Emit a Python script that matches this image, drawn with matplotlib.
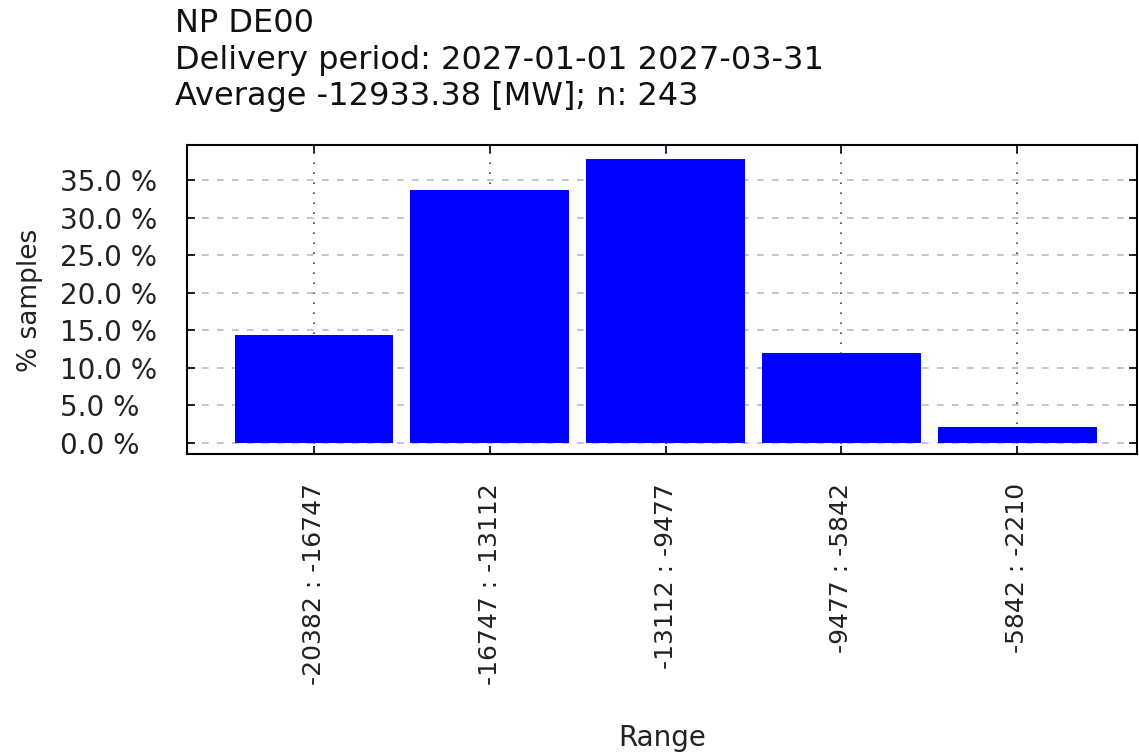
import numpy as np
import matplotlib.pyplot as plt

# histogram of sample counts (n = 243)
ranges = ["-20382 : -16747", "-16747 : -13112", "-13112 : -9477",
          "-9477 : -5842", "-5842 : -2210"]
counts = [35, 82, 92, 29, 5]
n_samples = 243
pct = [100 * c / n_samples for c in counts]

title_lines = ["NP DE00",
               "Delivery period: 2027-01-01 2027-03-31",
               "Average -12933.38 [MW]; n: 243"]

fig = plt.figure(figsize=(11.39, 7.56), dpi=100)
ax = fig.add_axes([187 / 1139, 1 - 454 / 756, (1137 - 187) / 1139, (454 - 145) / 756])

x = np.arange(len(ranges))
ax.bar(x, pct, width=0.9, color="#0000ff", zorder=3)

ax.set_xlim(-0.72, 4.68)
ax.set_ylim(-1.5, 39.7)
ax.set_yticks(np.arange(0, 36, 5))
ax.set_yticklabels([f"{v:.1f} %" for v in np.arange(0, 36, 5)], ha="left")
ax.set_xticks(x)
ax.set_xticklabels(ranges, rotation=90)

ax.tick_params(axis="both", direction="in", top=True, right=True,
               length=6, width=1.2, colors="black", labelcolor="#222222")
ax.tick_params(axis="y", pad=127 * 0.72, labelsize=20)
ax.tick_params(axis="x", pad=21, labelsize=18)

ax.grid(axis="y", color="#bbbbbb", linestyle=(0, (4, 5)), linewidth=1.2, zorder=1)
ax.grid(axis="x", color="#444444", linestyle=(0, (1, 5)), linewidth=1.2, zorder=1)
for sp in ax.spines.values():
    sp.set_linewidth(1.5)

ax.set_xlabel("Range", fontsize=20, color="#222222")
ax.xaxis.set_label_coords(0.5, -(738 - 454) / 309)
ax.xaxis.label.set_va("center")
ax.set_ylabel("% samples", fontsize=19, color="#222222")
ax.yaxis.set_label_coords(-(187 - 30) / 950, (454 - 300) / 309)
ax.yaxis.label.set_va("center")

for i, line in enumerate(title_lines):
    fig.text(175 / 1139, 1 - (24 + 36 * i) / 756, line, fontsize=23,
             color="#111111", va="center", ha="left")

fig.savefig("out.png", dpi=100)
